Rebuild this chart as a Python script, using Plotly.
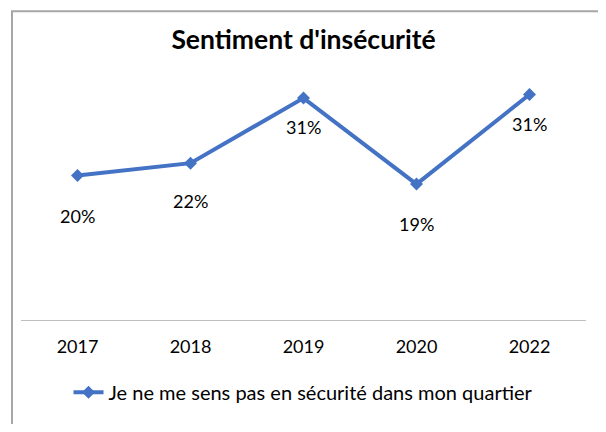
import plotly.graph_objects as go

years = ["2017", "2018", "2019", "2020", "2022"]
values = [0.200, 0.217, 0.307, 0.188, 0.312]
series_name = "Je ne me sens pas en sécurité dans mon quartier"
title_text = "Sentiment d'insécurité"

# label offsets below each point (px) - layout only
label_offsets = [41, 38, 29, 40, 30]

FONT = "Lato"
BLUE = "#4472C4"
W, H = 590, 416  # page body adds an 8px margin

fig = go.Figure()
fig.add_trace(go.Scatter(
    x=years, y=values, mode="lines+markers", name=series_name,
    line=dict(color=BLUE, width=4),
    marker=dict(symbol="diamond", size=10, color=BLUE),
))

annotations = []
for i, (v, off) in enumerate(zip(values, label_offsets)):
    annotations.append(dict(
        x=i, y=v, xref="x", yref="y", text=f"{round(v*100)}%",
        showarrow=False, yshift=-off, xanchor="center", yanchor="middle",
        font=dict(family=FONT, size=18, color="#000000"),
    ))

fig.update_layout(
    width=W, height=H,
    margin=dict(l=13, r=12, t=59, b=98),
    paper_bgcolor="white", plot_bgcolor="white",
    title=dict(text=f"<b>{title_text}</b>", x=0.5, xref="paper", xanchor="center",
               y=1 - 32/H, yref="container", yanchor="middle",
               font=dict(family=FONT, size=26.5, color="#000000")),
    xaxis=dict(type="category", categoryorder="array", categoryarray=years,
               range=[-0.5, len(years) - 0.5], autorange=False,
               showline=True, linecolor="#BFBFBF", linewidth=1,
               showgrid=False, zeroline=False, ticks="", ticklabelstandoff=10,
               tickfont=dict(family=FONT, size=18, color="#000000")),
    yaxis=dict(range=[0, 0.35], autorange=False, visible=False, showgrid=False, zeroline=False),
    showlegend=True,
    legend=dict(orientation="h", x=0.5, xanchor="center", y=(326-400)/259, yanchor="middle",
                yref="paper", font=dict(family=FONT, size=20, color="#000000"),
                bgcolor="rgba(0,0,0,0)"),
    annotations=annotations,
    shapes=[dict(type="rect", xref="paper", yref="paper",
                 x0=(12-21)/565, x1=(601-21)/565, y0=(326-445)/259, y1=(326-10)/259,
                 line=dict(color="#A6A6A6", width=2), fillcolor="rgba(0,0,0,0)", layer="below")],
)

fig.write_html("out.html")
